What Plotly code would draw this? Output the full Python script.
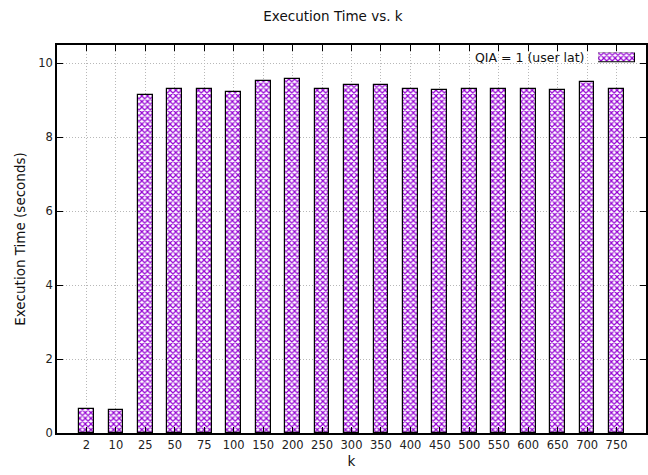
import plotly.graph_objects as go

k_values = ["2", "10", "25", "50", "75", "100", "150", "200", "250", "300",
            "350", "400", "450", "500", "550", "600", "650", "700", "750"]
exec_times = [0.65, 0.62, 9.15, 9.31, 9.31, 9.21, 9.53, 9.56, 9.29, 9.42,
              9.42, 9.29, 9.26, 9.31, 9.31, 9.29, 9.26, 9.48, 9.29]
series_name = "QIA = 1 (user lat)"

FONT = "DejaVu Sans"
PURPLE = "#9400D3"
pattern = dict(shape="x", fgcolor=PURPLE, fgopacity=1, bgcolor="white", size=4, solidity=0.5)

fig = go.Figure()
fig.add_trace(go.Bar(
    x=k_values, y=exec_times, name=series_name, width=0.5,
    marker=dict(color="white", pattern=pattern, line=dict(color="black", width=1.2)),
    showlegend=False,
))
# legend key drawn on its own small axes (text on left, key on right like gnuplot)
fig.add_trace(go.Bar(
    x=[0], y=[1], width=1, xaxis="x2", yaxis="y2", showlegend=False, hoverinfo="skip",
    marker=dict(color="white", pattern=pattern, line=dict(color="black", width=1.2)),
))

W, H = 648, 475
ml, mr, mt, mb = 57, 0, 45, 42
pw, ph = W - ml - mr, H - mt - mb
def px_x(x): return (x - ml) / pw
def px_y(y): return (H - mb - y) / ph

axis_common = dict(showline=True, linecolor="black", linewidth=1.5, mirror="ticks",
                   ticks="inside", ticklen=6, tickcolor="black",
                   showgrid=True, gridcolor="#b8b8b8", griddash="1px,2px", gridwidth=1,
                   tickfont=dict(family=FONT, size=11.5, color="#222"), zeroline=False)

fig.update_layout(
    width=W, height=H,
    margin=dict(l=ml, r=mr, t=mt, b=mb),
    paper_bgcolor="white", plot_bgcolor="white",
    title=dict(text="Execution Time vs. k", x=333 / W, xanchor="center", y=1 - 16 / H, yanchor="middle",
               font=dict(family=FONT, size=13.5, color="#111")),
    xaxis=dict(axis_common, type="category", range=[-1, 19],
               title=dict(text="k", font=dict(family=FONT, size=13.5, color="#111"), standoff=6)),
    yaxis=dict(axis_common, range=[0, 10.49], tickvals=[0, 2, 4, 6, 8, 10],
               title=dict(text="Execution Time (seconds)", font=dict(family=FONT, size=13.5, color="#111"), standoff=10)),
    xaxis2=dict(domain=[px_x(600), px_x(637)], range=[-0.5, 0.5], anchor="y2", visible=False, fixedrange=True),
    yaxis2=dict(domain=[px_y(62.5), px_y(52.5)], range=[0, 1], anchor="x2", visible=False, fixedrange=True),
    annotations=[dict(text=series_name, xref="paper", yref="paper", x=px_x(588), y=px_y(57.5),
                      xanchor="right", yanchor="middle", showarrow=False,
                      font=dict(family=FONT, size=12.5, color="#111"))],
    bargap=0,
)

fig.write_html("out.html", config={"displayModeBar": False},
               post_script="document.body.style.margin='0';")
